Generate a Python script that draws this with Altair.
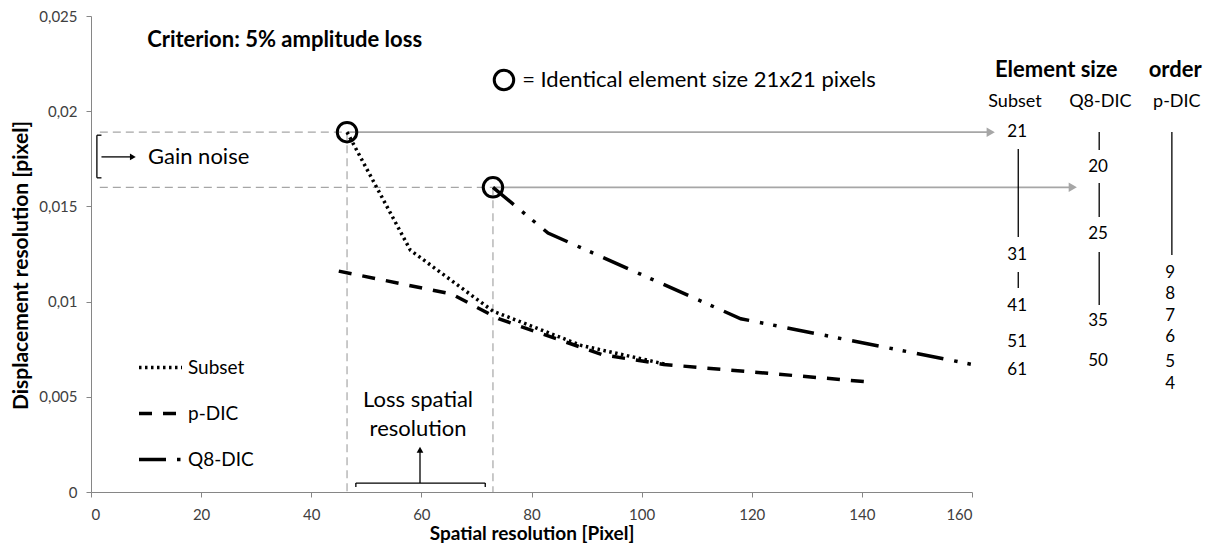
import altair as alt
import pandas as pd

# ---------------- data ----------------
subset_x = [46.5, 58, 73, 89, 104.5]
subset_y = [0.0189, 0.0127, 0.0095, 0.0077, 0.0067]
pdic_x = [45, 65.5, 74, 93, 104, 140.5]
pdic_y = [0.0116, 0.0104, 0.0091, 0.0072, 0.0067, 0.0058]
q8_x = [73, 83, 118, 160]
q8_y = [0.0160, 0.0136, 0.0091, 0.0067]

series_names = ["Subset", "p-DIC", "Q8-DIC"]

subset_sizes = ["21", "31", "41", "51", "61"]
q8_sizes = ["20", "25", "35", "50"]
pdic_orders = ["9", "8", "7", "6", "5", "4"]

x_ticks = [0, 20, 40, 60, 80, 100, 120, 140, 160]
y_ticks = [0, 0.005, 0.01, 0.015, 0.02, 0.025]

FONT = "Lato"
GRAY = "#a6a6a6"
AXIS_GRAY = "#868686"

# ---------------- tables ----------------
rows = []
for name, xs_, ys_ in [("Subset", subset_x, subset_y), ("p-DIC", pdic_x, pdic_y), ("Q8-DIC", q8_x, q8_y)]:
    for i, (a, b) in enumerate(zip(xs_, ys_)):
        rows.append({"series": name, "x": a, "y": b, "i": i})
curves = pd.DataFrame(rows)

xs = alt.Scale(domain=[0, 160], nice=False, zero=False)
ys = alt.Scale(domain=[0, 0.025], nice=False, zero=False)

X = lambda f="x": alt.X(f, type="quantitative", scale=xs)
Y = lambda f="y": alt.Y(f, type="quantitative", scale=ys)

base_axes = alt.Chart(pd.DataFrame({"x": [0], "y": [0]})).mark_point(opacity=0).encode(
    x=alt.X("x:Q", scale=xs, axis=alt.Axis(
        values=x_ticks, title="Spatial resolution [Pixel]", grid=False,
        domainColor=AXIS_GRAY, tickColor=AXIS_GRAY, tickSize=5,
        labelFont=FONT, labelFontSize=15, labelColor="#404040", labelPadding=10,
        titleFont=FONT, titleFontSize=19, titleFontWeight="bold", titleColor="black",
        titleY=41, titleBaseline="middle")),
    y=alt.Y("y:Q", scale=ys, axis=alt.Axis(
        values=y_ticks, title="Displacement resolution [pixel]", grid=False,
        domainColor=AXIS_GRAY, tickColor=AXIS_GRAY, tickSize=5,
        labelFont=FONT, labelFontSize=15, labelColor="#404040", labelPadding=9,
        labelExpr="replace(format(datum.value, '~g'), '.', ',')",
        titleFont=FONT, titleFontSize=21, titleFontWeight="bold", titleColor="black",
        titleX=-70, titleY=249, titleAngle=270, titleBaseline="middle", titleAlign="center")),
)

# gray guide lines
p1x, p1y = subset_x[0], subset_y[0]
p2x, p2y = q8_x[0], q8_y[0]
dashed_guides = pd.DataFrame([
    {"x": 1.6, "x2": p1x, "y": p1y, "y2": p1y},
    {"x": 1.6, "x2": p2x, "y": p2y, "y2": p2y},
    {"x": p1x, "x2": p1x, "y": p1y, "y2": 0},
    {"x": p2x, "x2": p2x, "y": p2y, "y2": 0},
])
solid_guides = pd.DataFrame([
    {"x": p1x, "x2": 163.4, "y": p1y},
    {"x": p2x, "x2": 178.3, "y": p2y},
])
g_dash = alt.Chart(dashed_guides).mark_rule(color=GRAY, strokeWidth=1.2, strokeDash=[8, 5]).encode(
    x=X(), x2="x2", y=Y(), y2="y2")
g_solid = alt.Chart(solid_guides).mark_rule(color=GRAY, strokeWidth=1.8).encode(x=X(), x2="x2", y=Y())
g_head = alt.Chart(solid_guides).mark_point(shape="triangle-right", filled=True, color=GRAY, size=90, opacity=1).encode(
    x=X("x2"), y=Y())

# curves
lines = alt.Chart(curves).mark_line(color="black", strokeWidth=3.5, strokeCap="butt", clip=False).encode(
    x=X(), y=Y(), order="i:Q",
    strokeDash=alt.StrokeDash("series:N",
        scale=alt.Scale(domain=series_names, range=[[2.5, 3.5], [13, 11], [27, 11, 3.5, 10, 3.5, 11]]),
        sort=series_names,
        legend=alt.Legend(orient="none", legendX=46, legendY=328, title=None,
                          symbolType="stroke", symbolSize=1849, symbolStrokeWidth=3.5,
                          symbolStrokeColor="black", labelFont=FONT, labelFontSize=19,
                          labelColor="black", labelOffset=4, rowPadding=12, padding=0)),
)

circles = alt.Chart(pd.DataFrame({"x": [p1x, p2x, 75.0], "y": [p1y, p2y, 0.02164]})).mark_point(
    shape="circle", filled=False, color="black", strokeWidth=3, size=380, opacity=1).encode(x=X(), y=Y())

# texts
def txt(df, size, weight="normal", align="left"):
    return alt.Chart(pd.DataFrame(df)).mark_text(
        font=FONT, fontSize=size, fontWeight=weight, align=align, baseline="middle", color="black").encode(
        x=X(), y=Y(), text="t:N")

t_title = txt({"x": [10.2], "y": [0.02374], "t": ["Criterion: 5% amplitude loss"]}, 22, "bold")
t_circle = txt({"x": [78.3], "y": [0.02164], "t": ["= Identical element size 21x21 pixels"]}, 22)
t_head = txt({"x": [175.3, 196.9], "y": [0.02216, 0.02216], "t": ["Element size", "order"]}, 22, "bold", "center")
t_cols = txt({"x": [167.8, 183.3, 197.2], "y": [0.02048] * 3, "t": ["Subset", "Q8-DIC", "p-DIC"]}, 18, "normal", "center")
t_sub = txt({"x": [168.2] * 5, "y": [0.01891, 0.01245, 0.00977, 0.00788, 0.00641], "t": subset_sizes}, 17, "normal", "center")
t_q8 = txt({"x": [182.9] * 4, "y": [0.01707, 0.01355, 0.00898, 0.00688], "t": q8_sizes}, 17, "normal", "center")
t_pd = txt({"x": [196.0] * 6, "y": [0.0115, 0.0104, 0.00924, 0.00814, 0.00683, 0.00567], "t": pdic_orders}, 17, "normal", "center")
t_gain = txt({"x": [10.35], "y": [0.0176], "t": ["Gain noise"]}, 22)
t_loss = txt({"x": [59.4, 59.4], "y": [0.00483, 0.00331], "t": ["Loss spatial", "resolution"]}, 22, "normal", "center")

# black annotation rules
black_rules = pd.DataFrame([
    # column separators
    {"x": 168.4, "x2": 168.4, "y": 0.01801, "y2": 0.01339},
    {"x": 168.4, "x2": 168.4, "y": 0.01155, "y2": 0.01071},
    {"x": 183.1, "x2": 183.1, "y": 0.01891, "y2": 0.01796},
    {"x": 183.1, "x2": 183.1, "y": 0.01623, "y2": 0.01444},
    {"x": 183.1, "x2": 183.1, "y": 0.01261, "y2": 0.00982},
    {"x": 196.3, "x2": 196.3, "y": 0.01891, "y2": 0.01245},
    # gain-noise bracket
    {"x": 1.07, "x2": 1.07, "y": 0.01874, "y2": 0.0165},
    {"x": 1.07, "x2": 1.9, "y": 0.01874, "y2": 0.01874},
    {"x": 1.07, "x2": 1.9, "y": 0.0165, "y2": 0.0165},
    {"x": 1.9, "x2": 7.3, "y": 0.0176, "y2": 0.0176},
    # loss bracket
    {"x": 48.1, "x2": 71.6, "y": 0.00047, "y2": 0.00047},
    {"x": 48.1, "x2": 48.1, "y": 0.00047, "y2": 0.00026},
    {"x": 71.6, "x2": 71.6, "y": 0.00047, "y2": 0.00026},
    {"x": 59.75, "x2": 59.75, "y": 0.00047, "y2": 0.00212},
])
b_rules = alt.Chart(black_rules).mark_rule(color="black", strokeWidth=1.3).encode(x=X(), x2="x2", y=Y(), y2="y2")
heads = pd.DataFrame([
    {"x": 7.6, "y": 0.0176, "s": "triangle-right"},
    {"x": 59.75, "y": 0.00222, "s": "triangle-up"},
])
b_heads = alt.Chart(heads).mark_point(filled=True, color="black", size=45, opacity=1).encode(
    x=X(), y=Y(), shape=alt.Shape("s:N", scale=None, legend=None))

chart = alt.layer(
    base_axes, g_dash, g_solid, g_head, lines, circles,
    t_title, t_circle, t_head, t_cols, t_sub, t_q8, t_pd, t_gain, t_loss,
    b_rules, b_heads,
).properties(
    width=881, height=476,
    autosize=alt.AutoSizeParams(type="none"),
    padding={"left": 83, "top": 8, "right": 233, "bottom": 53},
).configure(background="white").configure_view(stroke=None)

chart.save("out.html", embed_options={"renderer": "svg", "actions": False})
